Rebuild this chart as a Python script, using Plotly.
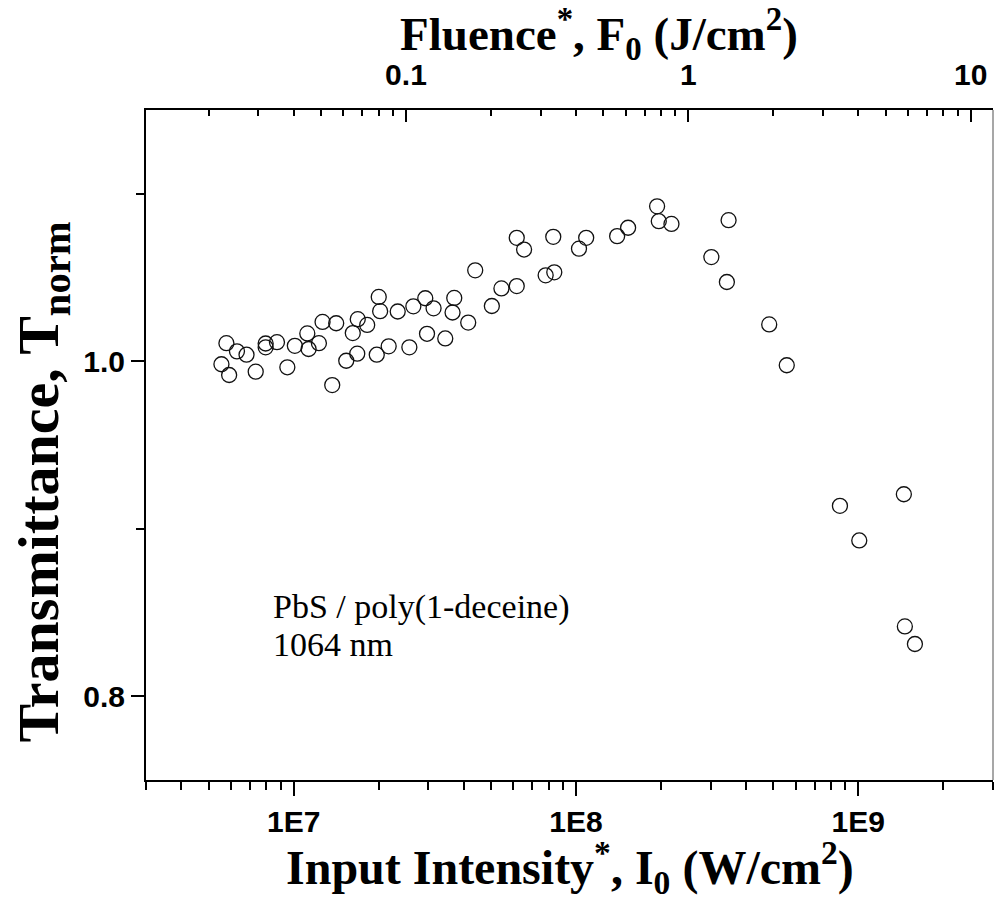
import math
import plotly.graph_objects as go

# ---- data ----
intensity = [5.78e6, 6.30e6, 6.81e6, 5.55e6, 5.91e6, 7.34e6, 7.96e6, 7.96e6, 8.73e6, 9.50e6,
             1.01e7, 1.118e7, 1.13e7, 1.229e7, 1.266e7, 1.415e7, 1.370e7, 1.536e7, 1.680e7, 1.620e7,
             1.687e7, 1.822e7, 1.970e7, 2.171e7, 2.002e7, 2.025e7, 2.337e7, 2.570e7, 2.655e7, 2.926e7,
             3.131e7, 2.968e7, 3.444e7, 3.706e7, 3.655e7, 4.153e7, 4.397e7, 5.036e7, 5.445e7, 6.17e7,
             6.17e7, 6.55e7, 7.81e7, 8.38e7, 8.31e7, 1.025e8, 1.087e8, 1.399e8, 1.530e8, 1.938e8,
             1.965e8, 2.179e8, 3.472e8, 3.017e8, 3.424e8, 4.836e8, 5.58e8, 8.61e8, 1.008e9, 1.450e9,
             1.462e9, 1.587e9]
transmittance = [1.0108, 1.0059, 1.0039, 0.9982, 0.9918, 0.9938, 1.0106, 1.0083, 1.0114, 0.9964,
                 1.0092, 1.0166, 1.0073, 1.0108, 1.0235, 1.0227, 0.9858, 1.0003, 1.0045, 1.0168,
                 1.0251, 1.0217, 1.0039, 1.0089, 1.0384, 1.0299, 1.0297, 1.0083, 1.0328, 1.0376,
                 1.0316, 1.0164, 1.0136, 1.0378, 1.0291, 1.0231, 1.0543, 1.0330, 1.0435, 1.0449,
                 1.0737, 1.0667, 1.0513, 1.0531, 1.0743, 1.0672, 1.0737, 1.0747, 1.0797, 1.0925,
                 1.0836, 1.0820, 1.0842, 1.0622, 1.0473, 1.0220, 0.9976, 0.9137, 0.8930, 0.9206,
                 0.8417, 0.8312]
pulse_duration = 4e-9  # s, links intensity (W/cm^2) to fluence (J/cm^2)

x_major = [1e7, 1e8, 1e9]
x_major_text = ["1E7", "1E8", "1E9"]
top_major = [0.1, 1, 10]
top_major_text = ["0.1", "1", "10"]
y_major = [0.8, 1.0]
y_major_text = ["0.8", "1.0"]
y_minor = [0.9, 1.1]

x_range = [3e6, 3e9]
y_range = [0.75, 1.15]

note_lines = ["PbS / poly(1-deceine)", "1064 nm"]
x_title = "Input Intensity<sup>*</sup>, I<sub>0</sub> (W/cm<sup>2</sup>)"
top_title = "Fluence<sup>*</sup>, F<sub>0</sub> (J/cm<sup>2</sup>)"
y_title = "Transmittance, T<sub>norm</sub>"

# ---- helpers ----
def minor_vals(lo, hi):
    vals = []
    for e in range(int(math.floor(math.log10(lo))) - 1, int(math.ceil(math.log10(hi))) + 1):
        for d in range(2, 10):
            v = d * 10 ** e
            if lo <= v <= hi:
                vals.append(v)
    return vals

fluence = [i * pulse_duration for i in intensity]
top_range = [x_range[0] * pulse_duration, x_range[1] * pulse_duration]

serif = "Times New Roman, Liberation Serif, serif"
sans = "Arial, Liberation Sans, sans-serif"

fig = go.Figure()
fig.add_trace(go.Scatter(
    x=intensity, y=transmittance, mode="markers",
    marker=dict(symbol="circle-open", size=15, color="#111111", line=dict(width=1.3, color="#111111")),
    showlegend=False, hoverinfo="x+y"))
fig.add_trace(go.Scatter(
    x=fluence, y=transmittance, mode="markers", xaxis="x2",
    marker=dict(opacity=0), showlegend=False, hoverinfo="skip"))

tickfont = dict(family=sans, size=30, color="black", weight="bold")

fig.update_layout(
    width=995, height=907,
    margin=dict(l=146, r=2, t=110, b=127),
    paper_bgcolor="white", plot_bgcolor="white",
    xaxis=dict(
        type="log", range=[math.log10(v) for v in x_range],
        tickmode="array", tickvals=x_major, ticktext=x_major_text,
        ticks="outside", ticklen=14, tickwidth=2, tickcolor="black",
        showline=True, linecolor="black", linewidth=2, mirror=False,
        showgrid=False, zeroline=False, tickfont=tickfont,
        minor=dict(tickmode="array", tickvals=minor_vals(*x_range), ticks="outside",
                   ticklen=8, tickwidth=2, tickcolor="black", showgrid=False),
    ),
    xaxis2=dict(
        type="log", range=[math.log10(v) for v in top_range],
        overlaying="x", side="top", anchor="y",
        tickmode="array", tickvals=top_major, ticktext=top_major_text,
        ticks="inside", ticklen=12, tickwidth=2, tickcolor="black",
        showline=True, linecolor="black", linewidth=2,
        showgrid=False, zeroline=False, tickfont=tickfont, ticklabelstandoff=11,
        minor=dict(tickmode="array", tickvals=minor_vals(*top_range), ticks="inside",
                   ticklen=6, tickwidth=2, tickcolor="black", showgrid=False),
    ),
    yaxis=dict(
        range=y_range, tickmode="array", tickvals=y_major, ticktext=y_major_text,
        ticks="outside", ticklen=13, tickwidth=2, tickcolor="black",
        showline=True, linecolor="black", linewidth=2,
        showgrid=False, zeroline=False, tickfont=tickfont,
        minor=dict(tickmode="array", tickvals=y_minor, ticks="outside",
                   ticklen=8, tickwidth=2, tickcolor="black", showgrid=False),
    ),
    shapes=[dict(type="line", xref="paper", yref="paper", x0=1, x1=1, y0=0, y1=1,
                 line=dict(color="#8a8a8a", width=1.5))],
    annotations=[
        dict(text=note_lines[0], xref="paper", yref="paper", x=0.1479, y=0.2582,
             xanchor="left", yanchor="middle", align="left", showarrow=False,
             font=dict(family=serif, size=34, color="black")),
        dict(text=note_lines[1], xref="paper", yref="paper", x=0.1479, y=0.2015,
             xanchor="left", yanchor="middle", align="left", showarrow=False,
             font=dict(family=serif, size=34, color="black")),
        dict(text=x_title, xref="paper", yref="paper", x=0.5, y=-0.13,
             xanchor="center", yanchor="middle", showarrow=False,
             font=dict(family=serif, size=48, color="black", weight="bold")),
        dict(text=top_title, xref="paper", yref="paper", x=0.535, y=1.113,
             xanchor="center", yanchor="middle", showarrow=False,
             font=dict(family=serif, size=47, color="black", weight="bold")),
        dict(text=y_title, xref="paper", yref="paper", x=-0.122, y=0.445,
             xanchor="center", yanchor="middle", showarrow=False, textangle=-90,
             font=dict(family=serif, size=58, color="black", weight="bold")),
    ],
)

fig.write_html("out.html")
